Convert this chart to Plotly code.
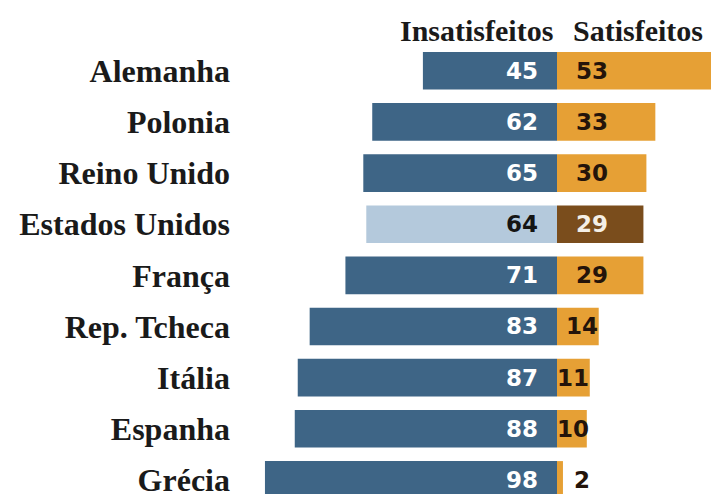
import plotly.graph_objects as go

# Survey results: share dissatisfied vs satisfied, by country
countries = ["Alemanha", "Polonia", "Reino Unido", "Estados Unidos", "França",
             "Rep. Tcheca", "Itália", "Espanha", "Grécia"]
insatisfeitos = [45, 62, 65, 64, 71, 83, 87, 88, 98]
satisfeitos = [53, 33, 30, 29, 29, 14, 11, 10, 2]
destaque = "Estados Unidos"

W, H = 711, 498
M_L, M_T = 240, 45
PX_PER_UNIT = 2.98
ZERO_PX = 557
ROW_PX = 51.6
FIRST_ROW_PX = 71

BLUE = "#3e6586"
ORANGE = "#e6a035"
LIGHT_BLUE = "#b4c9dc"
BROWN = "#7a4d1c"

pos = list(range(len(countries)))
plot_w = W - M_L
plot_h = H - M_T
x_lo = -(ZERO_PX - M_L) / PX_PER_UNIT
x_hi = (W - ZERO_PX) / PX_PER_UNIT
y_top = -(FIRST_ROW_PX - M_T) / ROW_PX
y_bot = y_top + plot_h / ROW_PX

ins_colors = [LIGHT_BLUE if c == destaque else BLUE for c in countries]
sat_colors = [BROWN if c == destaque else ORANGE for c in countries]

fig = go.Figure()
fig.add_trace(go.Bar(y=pos, x=[-v for v in insatisfeitos], orientation="h",
                     marker=dict(color=ins_colors, line=dict(width=0)),
                     width=0.736, hoverinfo="skip", showlegend=False))
fig.add_trace(go.Bar(y=pos, x=satisfeitos, orientation="h",
                     marker=dict(color=sat_colors, line=dict(width=0)),
                     width=0.736, hoverinfo="skip", showlegend=False))

NUM_FONT = "DejaVu Sans"
NUM_SIZE = 23
PAD = 17
annotations = []
for i, c in enumerate(countries):
    hl = c == destaque
    annotations.append(dict(
        x=0, y=i, xref="x", yref="y", text=f"<b>{insatisfeitos[i]}</b>",
        xanchor="right", yanchor="middle", xshift=-PAD, showarrow=False,
        font=dict(family=NUM_FONT, size=NUM_SIZE,
                  color="#141414" if hl else "white")))
    # satisfied label: padded inside when it fits, squeezed or outside otherwise
    s = satisfeitos[i]
    bar_px = s * PX_PER_UNIT
    txt_px = len(str(s)) * 0.7 * NUM_SIZE
    if bar_px >= txt_px + PAD + 3:
        shift = PAD
    elif bar_px >= txt_px * 0.6:
        shift = max(bar_px - txt_px - 3, -2)
    else:
        shift = PAD - 2
    annotations.append(dict(
        x=0, y=i, xref="x", yref="y", text=f"<b>{s}</b>",
        xanchor="left", yanchor="middle", xshift=shift, showarrow=False,
        font=dict(family=NUM_FONT, size=NUM_SIZE,
                  color="#f4efe6" if hl else "#24140a")))

HEAD_FONT = dict(family="Liberation Serif", size=30, color="#1a1a1a")
head_y = 1 + 15 / plot_h
annotations.append(dict(x=(476 - M_L) / plot_w, y=head_y, xref="paper", yref="paper",
                        text="<b>Insatisfeitos</b>", showarrow=False,
                        xanchor="center", yanchor="middle", font=HEAD_FONT))
annotations.append(dict(x=(638 - M_L) / plot_w, y=head_y, xref="paper", yref="paper",
                        text="<b>Satisfeitos</b>", showarrow=False,
                        xanchor="center", yanchor="middle", font=HEAD_FONT))

fig.update_layout(
    width=W, height=H,
    margin=dict(l=M_L, r=0, t=M_T, b=0, pad=0),
    paper_bgcolor="white", plot_bgcolor="white",
    barmode="overlay",
    annotations=annotations,
    xaxis=dict(range=[x_lo, x_hi], visible=False, fixedrange=True),
    yaxis=dict(range=[y_bot, y_top], tickvals=pos,
               ticktext=[f"<b>{c}</b>" for c in countries],
               tickfont=dict(family="Liberation Serif", size=32, color="#1a1a1a"),
               showgrid=False, zeroline=False, showline=False, ticks="",
               ticklabelstandoff=9, ticklabeloverflow="allow", fixedrange=True),
)

fig.write_html("out.html")
